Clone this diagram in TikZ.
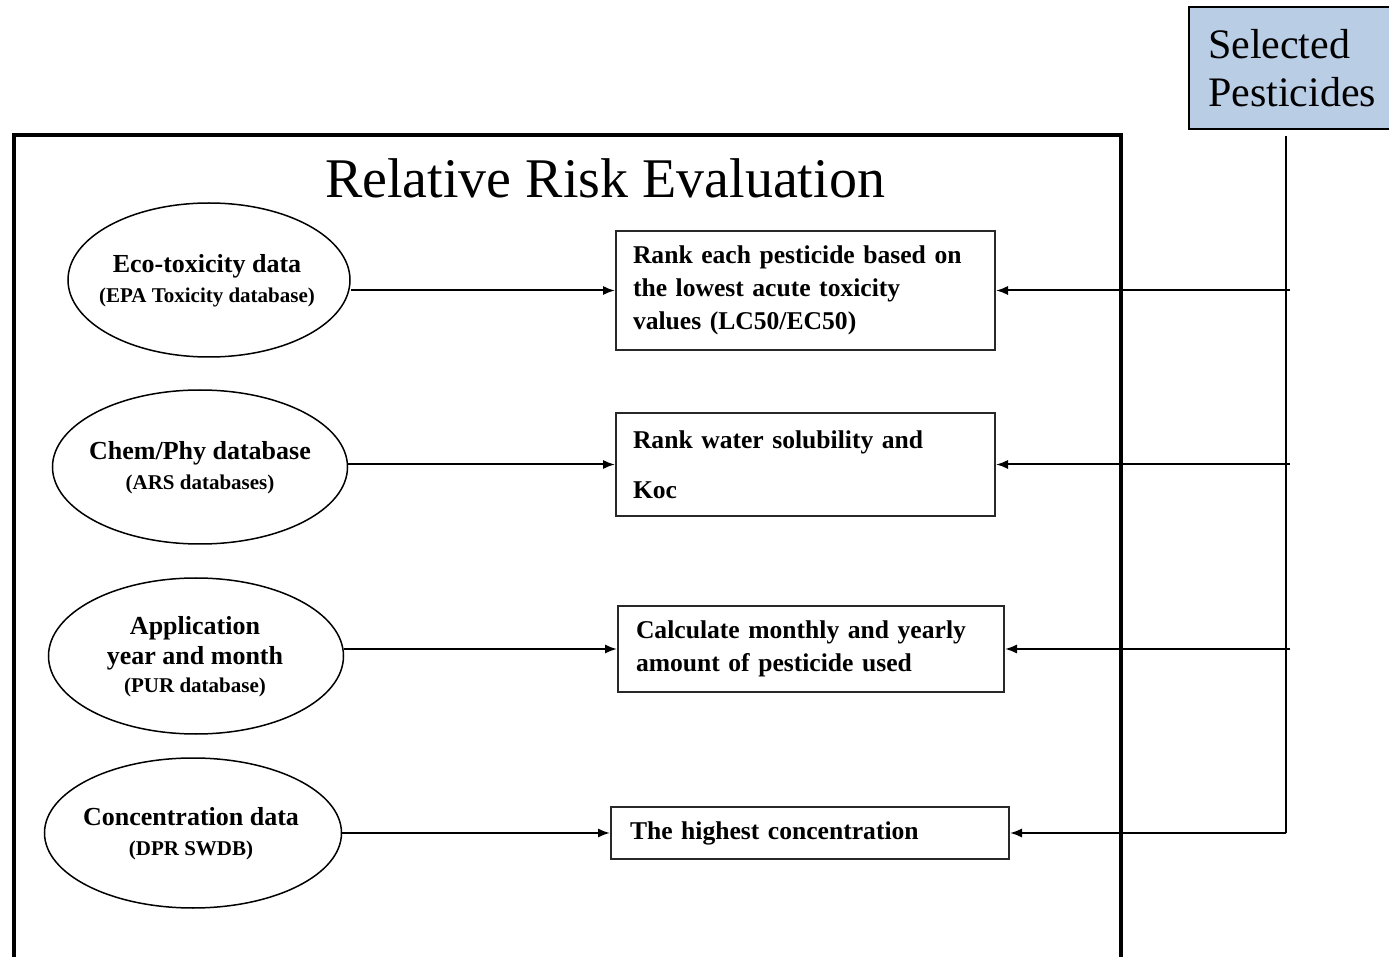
\documentclass[tikz,border=0pt]{standalone}
\usepackage{fontspec}
\setmainfont{Liberation Serif}
\usetikzlibrary{shapes.geometric,arrows.meta}
\definecolor{selfill}{RGB}{185,205,229}
\definecolor{edgegrey}{RGB}{40,40,40}
\tikzset{
  srcnode/.style={ellipse, draw=black, line width=0.75pt, inner sep=0pt},
  srctext/.style={align=center, inner sep=0pt, font=\fontsize{13}{15}\selectfont\bfseries},
  stepbox/.style={rectangle, draw=edgegrey, line width=1pt, align=left,
    inner ysep=0pt, font=\fontsize{12.8}{16.5}\selectfont\bfseries},
  arr/.style={line width=1pt, -{Latex[length=6pt,width=4.6pt]}},
  frame/.style={line width=2.2pt},
  selbox/.style={rectangle, draw=black, line width=1pt, fill=selfill,
    align=left, inner xsep=9.5pt, inner ysep=0pt,
    font=\fontsize{21}{24}\selectfont}
}
\newcommand{\subtxt}[1]{{\fontsize{10.5}{15}\selectfont #1}}
\begin{document}
\begin{tikzpicture}[x=0.5pt,y=-0.5pt]
\useasboundingbox (0,0) rectangle (1389,957);

% outer frame of the evaluation block
\draw[frame] (14,962) -- (14,135) -- (1121,135) -- (1121,962);

% title
\node[font=\fontsize{28}{32}\selectfont] (title) at (605,178) {Relative Risk Evaluation};

% pesticide list box
\node[selbox, anchor=north west, minimum height=61pt, text width=92pt] (sel) at (1188,6)
  {Selected\\Pesticides};

% data sources
\node[srcnode, minimum width=141pt, minimum height=77pt] (e1) at (209,280) {};
\node[srctext] (t1) at (207,281) {Eco-toxicity data\\\subtxt{(EPA Toxicity database)}};
\node[srcnode, minimum width=147.5pt, minimum height=77pt] (e2) at (200,467) {};
\node[srctext] (t2) at (200,468) {Chem/Phy database\\\subtxt{(ARS databases)}};
\node[srcnode, minimum width=147.5pt, minimum height=78pt] (e3) at (196,656) {};
\node[srctext] (t3) at (195,657) {Application\\year and month\\[-1pt]\subtxt{(PUR database)}};
\node[srcnode, minimum width=148.5pt, minimum height=75pt] (e4) at (193,833) {};
\node[srctext] (t4) at (191,834) {Concentration data\\\subtxt{(DPR SWDB)}};

% ranking steps
\node[stepbox, inner xsep=8.5pt, text width=172.5pt, minimum height=59.5pt] (b1) at (805.5,290.5)
  {Rank each pesticide based on\\the lowest acute toxicity\\values (LC50/EC50)};
\node[stepbox, inner xsep=8.5pt, text width=172.5pt, minimum height=51.5pt] (b2) at (805.5,464.5)
  {Rank water solubility and\\[8.5pt]Koc};
\node[stepbox, inner xsep=9pt, text width=175pt, minimum height=43pt] (b3) at (811,649)
  {Calculate monthly and yearly\\amount of pesticide used};
\node[stepbox, inner xsep=9.5pt, text width=180pt, minimum height=26pt] (b4) at (810,833)
  {The highest concentration};

% source to step connectors
\draw[arr] (e1.east |- b1.west) -- (b1.west);
\draw[arr] (e2.east |- b2.west) -- (b2.west);
\draw[arr] (e3.east |- b3.west) -- (b3.west);
\draw[arr] (e4.east |- b4.west) -- (b4.west);

% trunk from the pesticide list
\coordinate (trunk) at (1286,136);
\draw[line width=0.8pt] (trunk) -- (trunk |- b4.east);
\draw[arr] ([xshift=2pt]trunk |- b1.east) -- (b1.east);
\draw[arr] ([xshift=2pt]trunk |- b2.east) -- (b2.east);
\draw[arr] ([xshift=2pt]trunk |- b3.east) -- (b3.east);
\draw[arr] (trunk |- b4.east) -- (b4.east);
\end{tikzpicture}
\end{document}
